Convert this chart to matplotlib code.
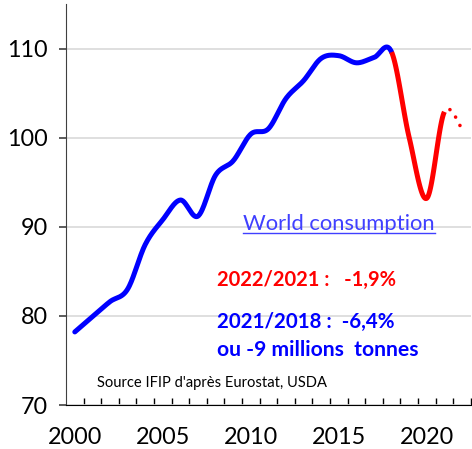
"""Consommation mondiale de porc, indice lissé (2000-2022)."""

import matplotlib

matplotlib.use("Agg")
import matplotlib.pyplot as plt
from matplotlib.lines import Line2D
import numpy as np


ANNEES = [2000, 2001, 2002, 2003, 2004, 2005, 2006, 2007, 2008, 2009, 2010, 2011,
          2012, 2013, 2014, 2015, 2016, 2017, 2018, 2019, 2020, 2021, 2022]
CONSOMMATION = [78.2, 79.9, 81.6, 83.0, 88.0, 90.8, 93.0, 91.2, 95.8, 97.4, 100.4, 101.0,
                104.4, 106.4, 108.9, 109.2, 108.4, 109.0, 109.6, 100.0, 93.2, 102.9, 101.0]
DEBUT_BAISSE = 2018
DERNIER_REALISE = 2021
TICKS_Y = [70, 80, 90, 100, 110]
TICKS_X = [2000, 2005, 2010, 2015, 2020]

BLEU = "#0000ff"
ROUGE = "#ff0000"


def lissage(x, y, n=30):
    """Courbe lissée façon Excel (Bézier avec tangentes de Catmull-Rom)."""
    pts = np.column_stack([x, y]).astype(float)
    pts = np.vstack([pts[0], pts, pts[-1]])
    t = np.linspace(0, 1, n)[:, None]
    xs, ys = [], []
    for i in range(1, len(pts) - 2):
        p0, p1, p2, p3 = pts[i - 1], pts[i], pts[i + 1], pts[i + 2]
        b1 = p1 + (p2 - p0) / 6
        b2 = p2 - (p3 - p1) / 6
        c = (1 - t) ** 3 * p1 + 3 * (1 - t) ** 2 * t * b1 + 3 * (1 - t) * t ** 2 * b2 + t ** 3 * p2
        xs.append(c[:, 0])
        ys.append(c[:, 1])
    return np.concatenate(xs), np.concatenate(ys)


def main():
    plt.rcParams["font.family"] = ["Lato", "DejaVu Sans"]
    fig = plt.figure(figsize=(4.72, 4.49), dpi=100)
    ax = fig.add_axes([66 / 472, 1 - 405 / 449, (470.8 - 66) / 472, (405 - 4) / 449])

    # une seule courbe lissée, colorée par tronçon
    xs, ys = lissage(ANNEES, CONSOMMATION)
    bleu = xs <= DEBUT_BAISSE
    rouge = (xs >= DEBUT_BAISSE) & (xs <= DERNIER_REALISE)
    prev = xs >= DERNIER_REALISE

    ax.plot(xs[bleu], ys[bleu], color=BLEU, lw=3.6, solid_capstyle="round", zorder=3)
    ax.plot(xs[rouge], ys[rouge], color=ROUGE, lw=3.6, solid_capstyle="butt", zorder=4)
    ax.plot(xs[prev], ys[prev], color=ROUGE, lw=2.6, dash_capstyle="round",
            linestyle=(0.66, (0.01, 2.6)), zorder=3)

    ax.set_xlim(1999.5, 2022.5)
    ax.set_ylim(70, 115)
    ax.set_yticks(TICKS_Y)
    ax.set_xticks(TICKS_X)
    ax.set_xticks(np.arange(2000.5, 2022.6, 1), minor=True)
    ax.grid(axis="y", color="#d9d9d9", lw=1.2)
    ax.set_axisbelow(True)

    for cote in ("top", "right"):
        ax.spines[cote].set_visible(False)
    ax.spines["left"].set_color("#404040")
    ax.spines["bottom"].set_color("#000000")
    ax.tick_params(axis="y", direction="out", length=5, width=1.2, color="#404040",
                   labelsize=16.8, pad=8)
    ax.tick_params(axis="x", which="major", length=0, labelsize=16.8, pad=16)
    ax.tick_params(axis="x", which="minor", direction="in", length=5, width=1.0)

    titre = ax.text(2009.55, 90.3, "World consumption", color="#4040ff", fontsize=15.8,
                    ha="left", va="center")
    ax.text(2008.1, 84.05, "2022/2021 :   -1,9%", color=ROUGE, fontsize=14.5,
            fontweight="bold", ha="left", va="center")
    ax.text(2008.1, 79.35, "2021/2018 :  -6,4%", color=BLEU, fontsize=14.8,
            fontweight="bold", ha="left", va="center")
    ax.text(2008.1, 76.2, "ou -9 millions  tonnes", color=BLEU, fontsize=15.2,
            fontweight="bold", ha="left", va="center")
    ax.text(2001.25, 72.5, "Source IFIP d'après Eurostat, USDA", color="black", fontsize=10.6,
            ha="left", va="center")

    # soulignement du titre
    fig.canvas.draw()
    bb = titre.get_window_extent()
    y_sous = bb.y0 + 1
    fig.add_artist(Line2D([bb.x0, bb.x1], [y_sous, y_sous], transform=None,
                          color="#4040ff", lw=1.0))

    fig.savefig("out.png", dpi=100)
    plt.close(fig)


if __name__ == "__main__":
    main()
